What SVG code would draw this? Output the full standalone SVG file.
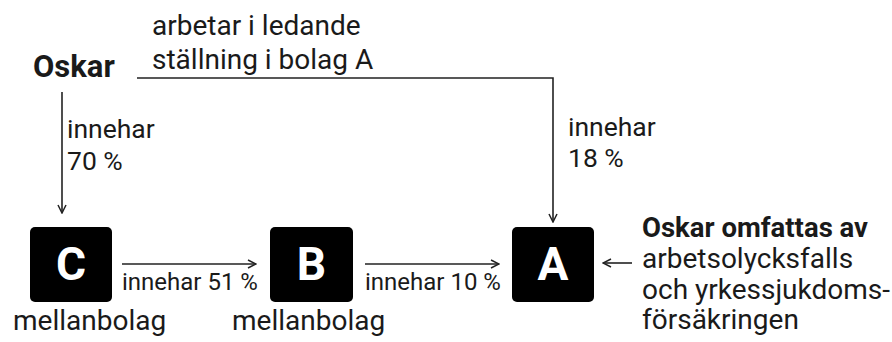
<svg xmlns="http://www.w3.org/2000/svg" width="892" height="342" viewBox="0 0 892 342">
<style>
text{font-family:Roboto,"Liberation Sans",sans-serif;fill:#1a1a1a}
.t{font-size:28px}
.s{font-size:26.5px}
.e{font-size:24px}
.b{font-weight:bold}
.box{fill:#000}
.lt{fill:#fff;font-size:46px;font-weight:bold;text-anchor:middle}
.c{fill:none;stroke:#222;stroke-width:1.6}
</style>
<defs>
<marker id="ah" viewBox="0 0 10 10" refX="9" refY="5" markerWidth="10" markerHeight="10" markerUnits="userSpaceOnUse" orient="auto">
<path d="M1,1 L9,5 L1,9" fill="none" stroke="#222" stroke-width="1.5"/>
</marker>
</defs>
<rect width="892" height="342" fill="#fff"/>
<g id="connectors">
<path class="c" d="M62,92 V213" marker-end="url(#ah)"/>
<path class="c" d="M137,78 H553 V222" marker-end="url(#ah)"/>
<path class="c" d="M122,264 H256" marker-end="url(#ah)"/>
<path class="c" d="M365,264 H499" marker-end="url(#ah)"/>
<path class="c" d="M632,263 H603" marker-end="url(#ah)"/>
<text class="t" x="152" y="35">arbetar i ledande</text>
<text class="t" x="152" y="69">ställning i bolag A</text>
<text class="s" x="67" y="138">innehar</text>
<text class="s" x="67" y="170">70 %</text>
<text class="s" x="568" y="136">innehar</text>
<text class="s" x="568" y="167">18 %</text>
<text class="e" x="122" y="290">innehar 51 %</text>
<text class="e" x="365" y="290">innehar 10 %</text>
</g>
<g id="oskar">
<text class="b" x="33" y="77" font-size="31">Oskar</text>
</g>
<g id="nodeC">
<rect class="box" x="30" y="227" width="82" height="75" rx="5"/>
<text class="lt" x="71" y="280">C</text>
<text class="t" x="13" y="330">mellanbolag</text>
</g>
<g id="nodeB">
<rect class="box" x="270" y="227" width="83" height="75" rx="5"/>
<text class="lt" x="311.5" y="280">B</text>
<text class="t" x="232" y="330">mellanbolag</text>
</g>
<g id="nodeA">
<rect class="box" x="512" y="227" width="82" height="75" rx="5"/>
<text class="lt" x="553" y="280">A</text>
</g>
<g id="note">
<text class="b" x="642" y="237" font-size="27.5">Oskar omfattas av</text>
<text class="t" x="642" y="268">arbetsolycksfalls</text>
<text class="t" x="642" y="299">och yrkessjukdoms-</text>
<text class="t" x="642" y="329">försäkringen</text>
</g>
</svg>
